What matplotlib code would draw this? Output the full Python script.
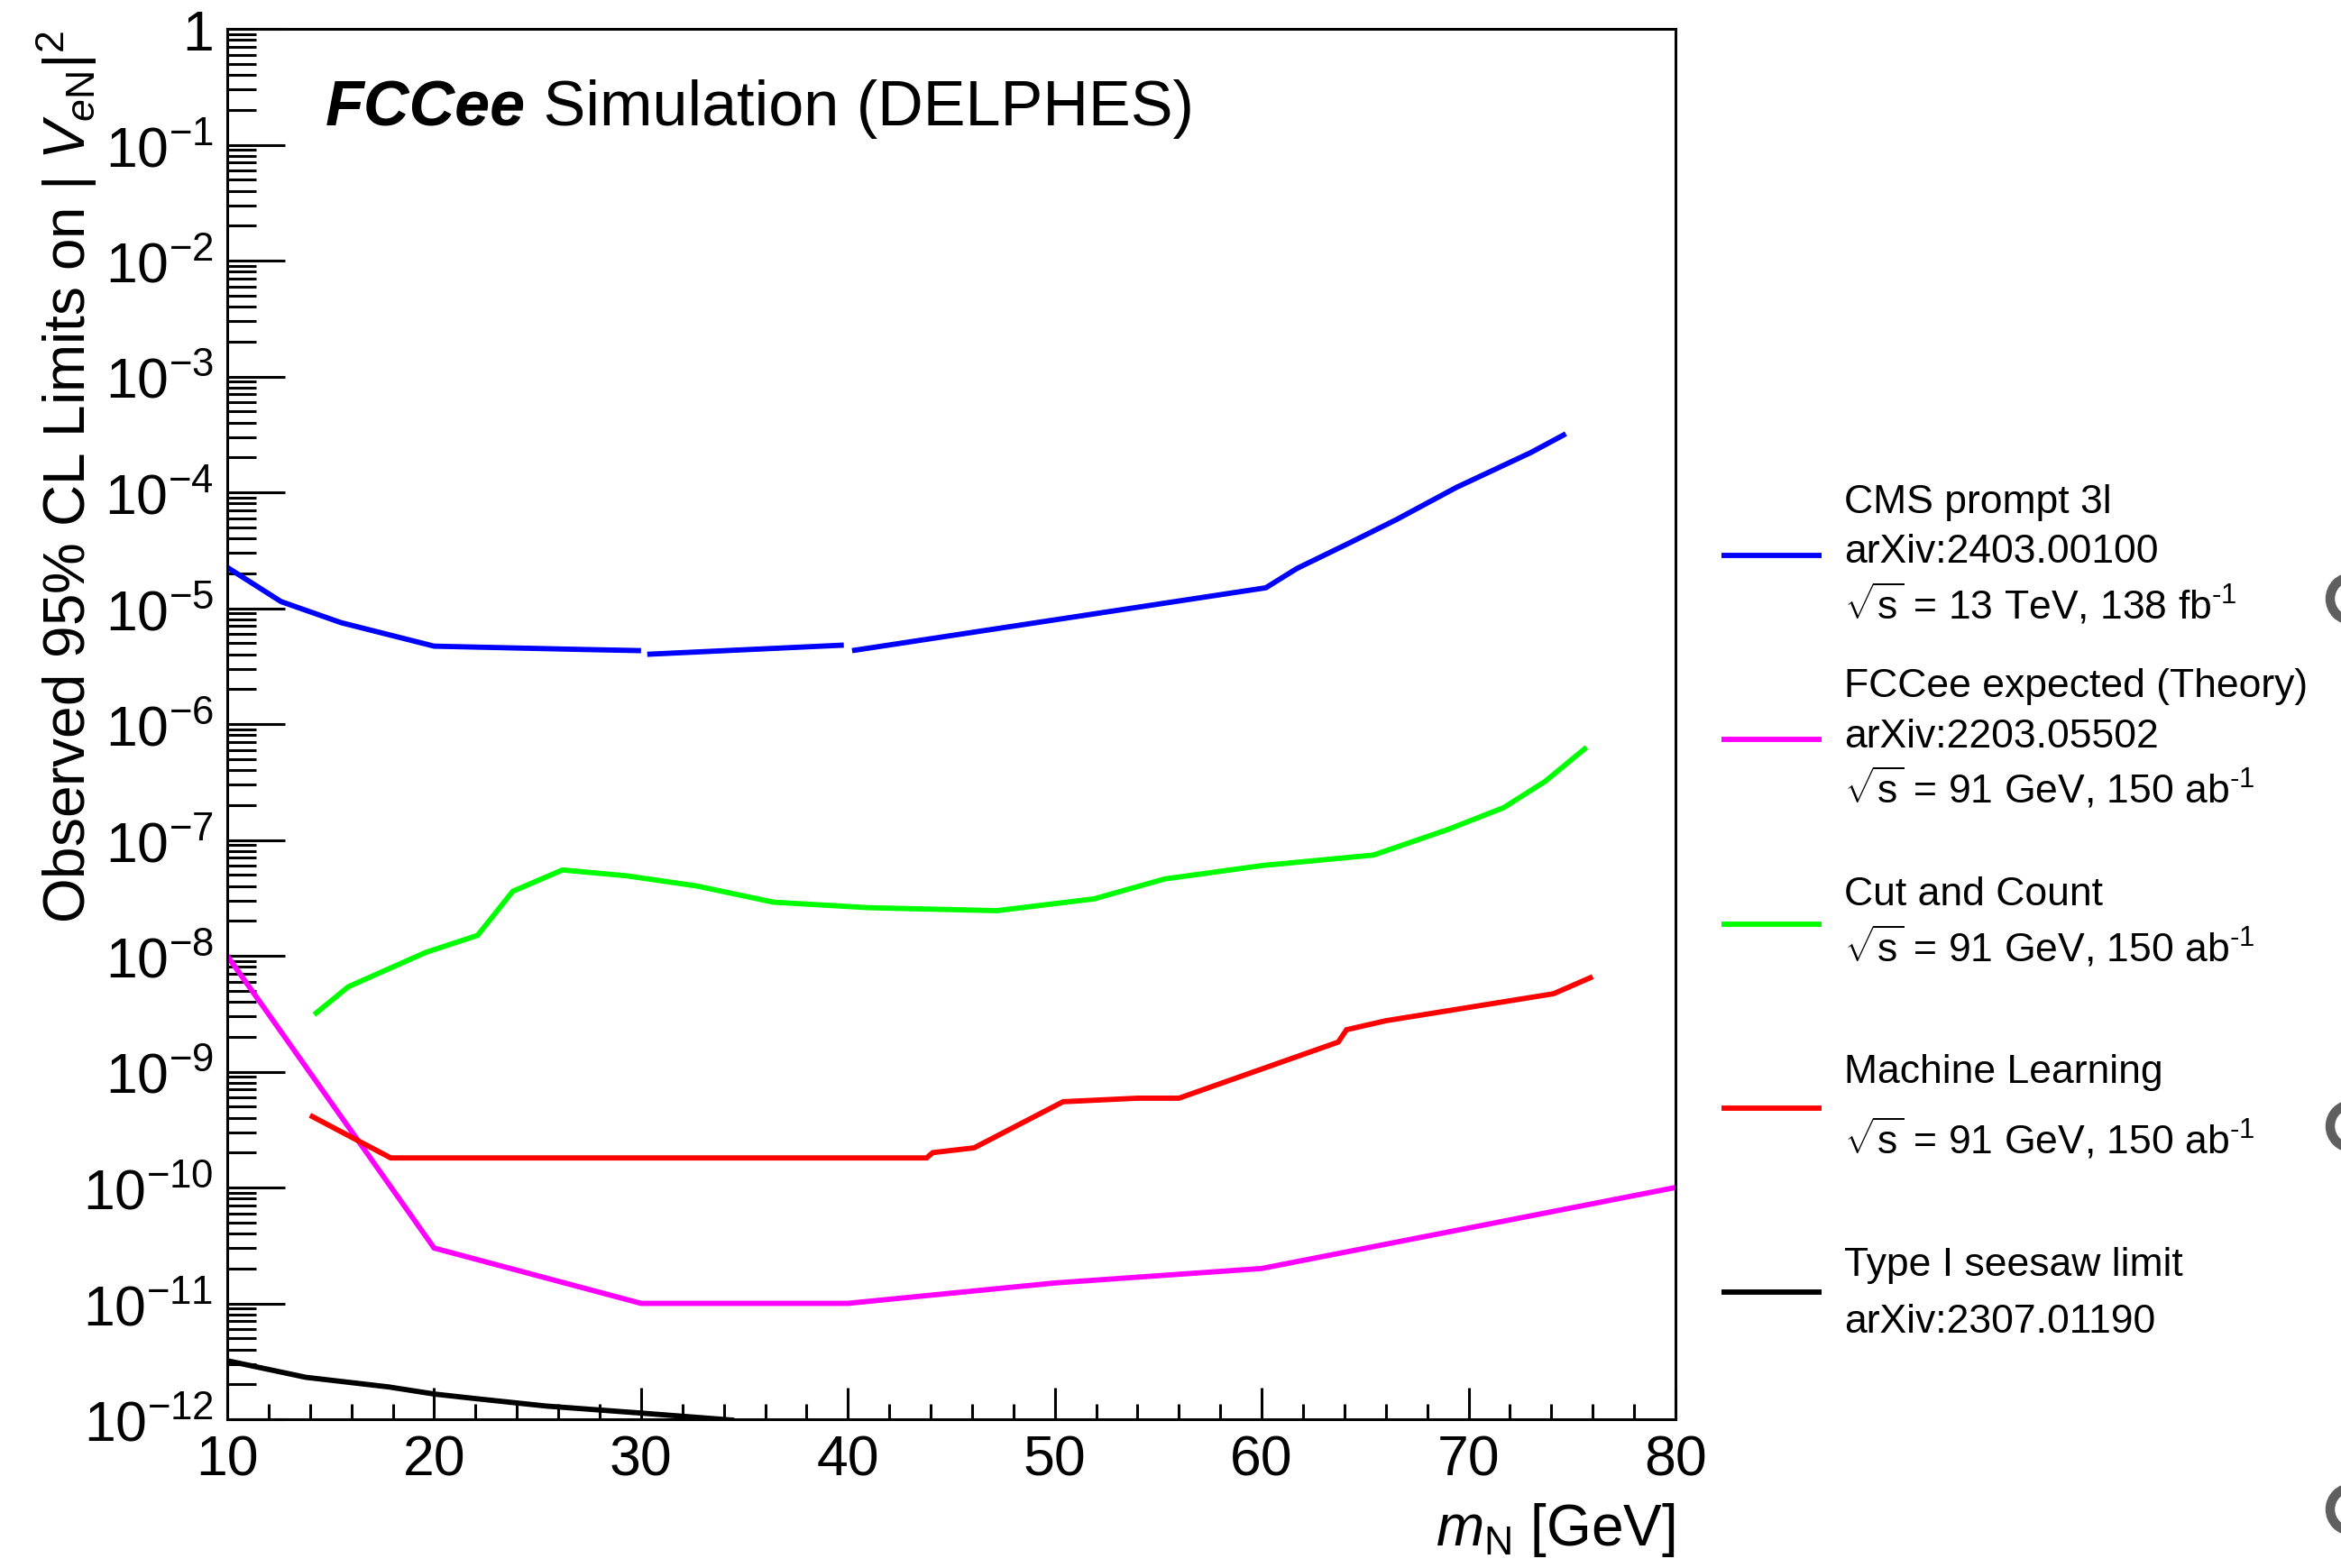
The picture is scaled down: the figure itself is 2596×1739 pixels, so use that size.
import numpy as np
import matplotlib
matplotlib.use("Agg")
import matplotlib.pyplot as plt
from matplotlib.lines import Line2D
from matplotlib.patches import Ellipse
from matplotlib.ticker import FixedLocator, MultipleLocator, FuncFormatter, NullFormatter

plt.rcParams["font.family"] = ["Liberation Sans", "DejaVu Sans"]
plt.rcParams["mathtext.fontset"] = "custom"
plt.rcParams["mathtext.rm"] = "Liberation Sans"
plt.rcParams["mathtext.it"] = "Liberation Sans:italic"
plt.rcParams["mathtext.bf"] = "Liberation Sans:bold"

# CMS prompt 3l (three separate pieces)
cms_m1 = [10, 12.6, 15.5, 20, 27.2, 30]
cms_v1 = [2.25e-5, 1.14e-5, 7.5e-6, 4.7e-6, 4.4e-6, 4.3e-6]
cms_m2 = [30.3, 39.8]
cms_v2 = [4.0e-6, 4.8e-6]
cms_m3 = [40.2, 60.2, 61.7, 64.3, 66.5, 69.4, 73, 74.7]
cms_v3 = [4.3e-6, 1.5e-5, 2.2e-5, 3.7e-5, 5.8e-5, 1.1e-4, 2.2e-4, 3.2e-4]

# FCCee expected (theory)
fcc_m = [10, 20, 30, 40, 50, 60, 80]
fcc_v = [1e-8, 3e-11, 1e-11, 1e-11, 1.5e-11, 2e-11, 1e-10]

# Cut and Count
cc_m = [14.2, 15.85, 19.6, 22.1, 23.8, 26.2, 29.3, 32.7, 36.4, 41, 47.2, 51.9, 55.3, 60, 65.4, 69, 71.7, 73.7, 75.7]
cc_v = [3.1e-9, 5.4e-9, 1.07e-8, 1.5e-8, 3.6e-8, 5.5e-8, 4.9e-8, 4.0e-8, 2.9e-8, 2.6e-8, 2.45e-8,
        3.1e-8, 4.6e-8, 6.0e-8, 7.4e-8, 1.23e-7, 1.9e-7, 3.2e-7, 6.3e-7]

# Machine Learning
ml_m = [14.0, 17.9, 43.8, 44.1, 46.1, 50.4, 54, 56, 63.7, 64.1, 66, 74.1, 76]
ml_v = [4.2e-10, 1.8e-10, 1.8e-10, 2.0e-10, 2.2e-10, 5.5e-10, 5.9e-10, 5.9e-10, 1.8e-9, 2.3e-9,
        2.75e-9, 4.7e-9, 6.6e-9]

# Type I seesaw
ss_m = [10, 13.8, 17.8, 20, 22.1, 25.4, 30, 34.5]
ss_v = [3.2e-12, 2.3e-12, 1.9e-12, 1.65e-12, 1.5e-12, 1.3e-12, 1.13e-12, 0.98e-12]

rs = r"$\sqrt{\mathrm{s}}$"
inv = "$^{\u2010\mathrm{1}}$"
legend_colors = ["#0000ff", "#ff00ff", "#00ff00", "#ff0000", "#000000"]
legend_texts = [
    ["CMS prompt 3l", "arXiv:2403.00100", rs + " = 13 TeV, 138 fb" + inv],
    ["FCCee expected (Theory)", "arXiv:2203.05502", rs + " = 91 GeV, 150 ab" + inv],
    ["Cut and Count", rs + " = 91 GeV, 150 ab" + inv],
    ["Machine Learning", rs + " = 91 GeV, 150 ab" + inv],
    ["Type I seesaw limit", "arXiv:2307.01190"],
]

W, H = 2596, 1740
fig = plt.figure(figsize=(W / 100, H / 100), dpi=100)
ax = fig.add_axes([252 / W, 1 - 1575 / H, (1858 - 252) / W, (1575 - 33) / H])

lw = 4.2
kw = dict(lw=lw, solid_capstyle="butt", solid_joinstyle="miter")
for m, v in [(cms_m1, cms_v1), (cms_m2, cms_v2), (cms_m3, cms_v3)]:
    ax.plot(m, v, color="#0000ff", **kw)
ax.plot(fcc_m, fcc_v, color="#ff00ff", **kw)
ax.plot(cc_m, cc_v, color="#00ff00", **kw)
ax.plot(ml_m, ml_v, color="#ff0000", **kw)
ax.plot(ss_m, ss_v, color="#000000", **kw)

ax.set_yscale("log")
ax.set_xlim(10, 80)
ax.set_ylim(1e-12, 1)

decades = [10.0 ** k for k in range(-12, 1)]
minors = [d * f for d in decades[:-1] for f in range(2, 10)]
ax.yaxis.set_major_locator(FixedLocator(decades))
ax.yaxis.set_minor_locator(FixedLocator(minors))
ax.yaxis.set_minor_formatter(NullFormatter())
ax.yaxis.set_major_formatter(FuncFormatter(
    lambda v, p: "1" if abs(v - 1) < 1e-9 else r"$\mathdefault{10^{%d}}$" % int(round(np.log10(v)))))
ax.xaxis.set_major_locator(MultipleLocator(10))
ax.xaxis.set_minor_locator(MultipleLocator(2))

ax.tick_params(axis="both", which="both", direction="in", width=2.2, top=False, right=False,
               labelsize=45, pad=11)
ax.tick_params(axis="y", which="major", length=46)
ax.tick_params(axis="y", which="minor", length=23)
ax.tick_params(axis="x", which="major", length=25)
ax.tick_params(axis="x", which="minor", length=12)
for s in ax.spines.values():
    s.set_linewidth(2.2)

fig.text(74 / W, 1 - 33 / H, r"Observed 95% CL Limits on | $V_{e\mathrm{N}}$|$^{2}$",
         rotation=90, ha="center", va="top", fontsize=46)
fig.text(1858 / W, 1 - 1697 / H, r"$m_{\mathrm{N}}$ [GeV]", ha="right", va="center", fontsize=46)

t1 = fig.text(361 / W, 1 - 121 / H, "FCCee", fontsize=50.5, fontweight="bold", fontstyle="italic",
              va="center", ha="left")
ax.annotate(" Simulation (DELPHES)", xy=(1, 0), xycoords=t1, ha="left", va="bottom", fontsize=50.5,
            annotation_clip=False)

# legend
line_y = [617, 821, 1026, 1230, 1434]
text_y = [[558, 613, 670], [762, 818, 874], [993, 1050], [1189, 1263], [1404, 1467]]
for c, ly, labels, tys in zip(legend_colors, line_y, legend_texts, text_y):
    fig.add_artist(Line2D([1909 / W, 2020 / W], [1 - ly / H, 1 - ly / H], color=c, lw=lw,
                          solid_capstyle="butt"))
    for lab, ty in zip(labels, tys):
        fig.text(2045 / W, 1 - ty / H, lab, fontsize=32, ha="left", va="center")

# partially visible grey rings at the right edge
for ry in [665, 1250, 1675]:
    fig.add_artist(Ellipse((2608 / W, 1 - ry / H), 2 * 24 / W, 2 * 24 / H, fill=False,
                           edgecolor="#5f5f5f", lw=7.5))

fig.savefig("out.png", dpi=100)
